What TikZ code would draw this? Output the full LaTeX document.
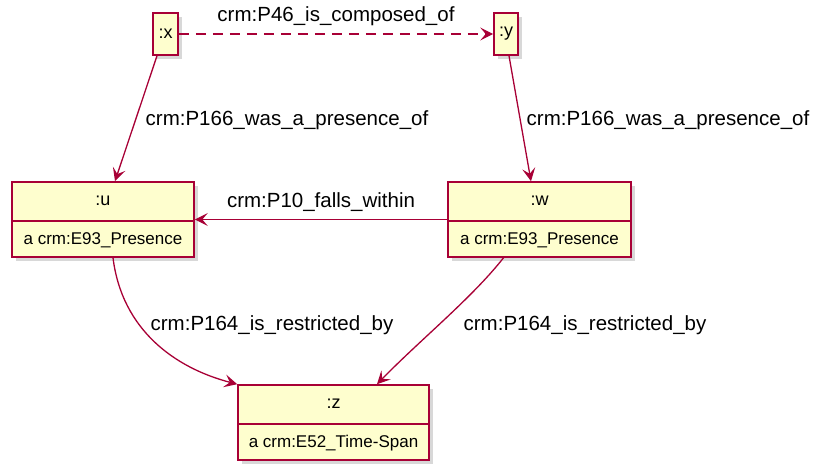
\documentclass[tikz,border=0pt]{standalone}
\usepackage{fontspec}
\setmainfont{Liberation Sans}
\usetikzlibrary{arrows.meta,shadows,calc}
\definecolor{umlfill}{HTML}{FEFECE}
\definecolor{umlline}{HTML}{A80036}
\begin{document}
\begin{tikzpicture}[x=1pt,y=-1pt,
 obj/.style={draw=umlline, fill=umlfill, line width=1.6pt, inner sep=0pt,
   drop shadow={shadow xshift=4pt, shadow yshift=-4pt, opacity=0.3}},
 divider/.style={draw=umlline, line width=1.6pt},
 rel/.style={draw=umlline, line width=1.3pt, -{Stealth[length=13pt,width=13pt,inset=5.5pt]}},
 lbl/.style={font=\fontsize{20.5}{22}\selectfont, inner sep=0pt},
 ttl/.style={font=\fontsize{18}{20}\selectfont, inner sep=0pt},
 att/.style={font=\fontsize{17}{19}\selectfont, inner sep=0pt}]
\useasboundingbox[fill=white] (0,0) rectangle (815,465);

% object boxes
\node[obj, minimum width=25pt, minimum height=42pt] (x) at (165.5,34) {};
\node[ttl] (xt) at (x) {:x};
\node[obj, minimum width=24pt, minimum height=42pt] (y) at (506,34) {};
\node[ttl] (yt) at (y) {:y};

\node[obj, minimum width=182pt, minimum height=75pt] (u) at (103,219.5) {};
\draw[divider] ($(u.north west)+(0,40)$) -- ($(u.north east)+(0,40)$);
\node[ttl] (ut) at ($(u.north)+(0,20)$) {:u};
\node[att] (ua) at ($(u.north)+(0,59)$) {a crm:E93\_Presence};

\node[obj, minimum width=183pt, minimum height=75pt] (w) at (539.5,219.5) {};
\draw[divider] ($(w.north west)+(0,40)$) -- ($(w.north east)+(0,40)$);
\node[ttl] (wt) at ($(w.north)+(0,20)$) {:w};
\node[att] (wa) at ($(w.north)+(0,59)$) {a crm:E93\_Presence};

\node[obj, minimum width=191pt, minimum height=75pt] (z) at (333.5,422.5) {};
\draw[divider] ($(z.north west)+(0,40)$) -- ($(z.north east)+(0,40)$);
\node[ttl] (zt) at ($(z.north)+(0,20)$) {:z};
\node[att] (za) at ($(z.north)+(0,59)$) {a crm:E52\_Time-Span};

% connectors
\draw[rel, dash pattern=on 10pt off 7pt] (x.east) -- (y.west);
\draw[rel] ($(x.south)+(-8.5,0)$) -- ($(u.north)+(12,0)$);
\draw[rel] ($(y.south)+(3,0)$) -- ($(w.north)+(-8.5,0)$);
\draw[rel] (w.west) -- (u.east);
\draw[rel] ($(u.south)+(10,0)$) .. controls (122,330) and (175,368) .. (z.north west);
\draw[rel] ($(w.south)+(-36,0)$) .. controls (472,298) and (420,340) .. ($(z.north)+(43.5,0)$);

% labels
\node[lbl] (l1) at (336,16) {crm:P46\_is\_composed\_of};
\node[lbl] (l2) at (287,120) {crm:P166\_was\_a\_presence\_of};
\node[lbl] (l3) at (668,120) {crm:P166\_was\_a\_presence\_of};
\node[lbl] (l4) at (321,202) {crm:P10\_falls\_within};
\node[lbl] (l5) at (272,325) {crm:P164\_is\_restricted\_by};
\node[lbl] (l6) at (585,325) {crm:P164\_is\_restricted\_by};
\end{tikzpicture}
\end{document}
